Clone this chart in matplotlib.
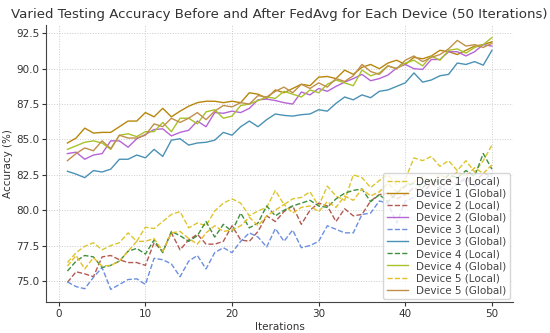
import numpy as np
import matplotlib
matplotlib.use("Agg")
import matplotlib.pyplot as plt

iterations = np.arange(1, 51)

d1_local = [76.3, 77.0, 77.45, 77.7, 77.2, 77.5, 77.7, 78.4, 77.8, 78.8,
            78.7, 79.2, 79.7, 79.9, 78.75, 79.1, 78.9, 79.95, 80.5, 80.8,
            80.5, 79.6, 79.95, 80.2, 81.4, 80.4, 80.8, 80.9, 81.3, 80.3,
            81.7, 81.0, 80.7, 82.5, 82.3, 81.6, 82.1, 82.5, 81.8, 82.2,
            83.7, 83.5, 83.8, 83.1, 83.5, 82.8, 83.5, 82.7, 83.5, 84.6]
d1_global = [84.75, 85.1, 85.8, 85.45, 85.5, 85.5, 85.9, 86.3, 86.3, 86.9,
             86.6, 87.2, 86.6, 87.0, 87.35, 87.6, 87.7, 87.7, 87.6, 87.7,
             87.6, 88.3, 88.2, 87.9, 88.5, 88.3, 88.6, 88.9, 88.8, 89.4,
             89.45, 89.3, 89.9, 89.6, 90.1, 90.3, 90.0, 90.4, 90.6, 90.3,
             90.8, 90.7, 90.9, 91.3, 91.2, 91.0, 91.3, 91.6, 91.7, 91.9]
d2_local = [74.9, 75.65, 75.5, 75.3, 76.7, 76.8, 76.5, 76.3, 76.3, 76.1,
            77.7, 77.1, 78.4, 77.2, 77.9, 78.3, 77.6, 77.6, 77.8, 78.9,
            77.9, 77.8, 78.5, 79.6, 79.2, 79.9, 80.3, 79.0, 80.0, 80.5,
            80.3, 79.2, 80.1, 79.6, 79.7, 80.65, 81.1, 81.2, 80.8, 81.1,
            81.6, 81.2, 81.9, 81.5, 82.1, 81.8, 82.3, 82.0, 82.6, 82.4]
d2_global = [84.0, 84.1, 83.6, 83.9, 84.0, 84.9, 84.9, 84.45, 85.05, 85.35,
             85.7, 85.75, 85.25, 85.5, 85.65, 86.3, 85.9, 86.9, 86.85, 87.0,
             86.9, 87.2, 87.8, 87.85, 87.75, 87.6, 87.5, 88.35, 88.15, 88.6,
             88.4, 88.75, 89.05, 89.3, 89.6, 89.15, 89.3, 89.55, 90.05, 90.3,
             90.0, 89.95, 90.65, 90.65, 91.2, 91.2, 90.9, 91.2, 91.7, 91.6]
d3_local = [74.93, 74.6, 74.45, 75.25, 75.95, 74.4, 74.75, 75.1, 75.15, 74.75,
            76.6, 76.5, 76.2, 75.3, 76.4, 76.8, 75.85, 77.0, 77.35, 77.0,
            77.8, 78.4, 78.1, 77.4, 78.7, 77.8, 78.6, 77.35, 77.5, 77.8,
            78.9, 78.65, 78.4, 78.4, 79.7, 79.8, 80.65, 80.5, 79.1, 80.65,
            80.9, 81.4, 81.0, 81.7, 81.3, 81.9, 82.2, 81.7, 82.1, 82.6]
d3_global = [82.75, 82.55, 82.3, 82.8, 82.7, 82.9, 83.6, 83.6, 83.9, 83.7,
             84.3, 83.8, 84.95, 85.05, 84.6, 84.75, 84.8, 84.95, 85.5, 85.3,
             85.9, 86.3, 85.9, 86.4, 86.8, 86.7, 86.65, 86.75, 86.8, 87.1,
             87.0, 87.55, 88.0, 87.8, 88.15, 87.95, 88.4, 88.5, 88.75, 89.0,
             89.7, 89.05, 89.2, 89.5, 89.6, 90.4, 90.3, 90.5, 90.25, 91.3]
d4_local = [75.7, 76.4, 76.8, 76.7, 75.95, 76.1, 76.4, 77.1, 77.3, 76.9,
            77.9, 77.0, 78.5, 78.2, 77.8, 78.2, 79.2, 78.1, 79.0, 78.5,
            79.8, 78.75, 79.1, 80.3, 79.6, 80.0, 80.3, 80.5, 80.7, 80.3,
            80.2, 80.8, 81.2, 81.4, 81.5, 80.6, 81.1, 80.6, 81.2, 81.7,
            81.9, 81.6, 82.2, 81.9, 82.5, 82.3, 82.8, 82.4, 84.0, 82.9]
d4_global = [84.3, 84.55, 84.8, 84.9, 84.75, 84.3, 85.3, 85.4, 85.2, 85.55,
             85.55, 86.2, 85.55, 86.5, 86.5, 86.1, 86.95, 87.1, 86.5, 86.65,
             87.4, 87.5, 87.75, 88.0, 87.9, 88.4, 88.2, 88.0, 88.5, 88.3,
             88.9, 89.2, 89.0, 88.8, 89.9, 89.5, 89.7, 90.2, 90.0, 90.4,
             90.6, 90.2, 90.9, 90.6, 91.3, 91.4, 91.1, 91.5, 91.7, 92.2]
d5_local = [76.05, 76.8, 75.85, 76.65, 76.05, 76.1, 76.4, 77.1, 77.8, 77.8,
            78.0, 77.1, 78.4, 78.5, 78.0, 77.6, 78.4, 78.9, 78.5, 78.6,
            78.9, 79.5, 78.9, 79.6, 80.0, 80.4, 79.8, 80.2, 80.3, 79.9,
            80.6, 80.2, 81.0, 80.7, 81.5, 81.0, 81.3, 81.9, 81.3, 81.8,
            82.0, 82.4, 81.9, 82.5, 82.2, 82.7, 82.4, 83.0, 82.6, 83.2]
d5_global = [83.5, 84.0, 84.4, 84.2, 84.9, 84.35, 85.3, 85.1, 85.1, 85.3,
             86.1, 85.9, 86.5, 86.2, 86.5, 86.9, 86.4, 87.0, 87.4, 87.3,
             87.6, 87.5, 88.1, 88.0, 88.4, 88.7, 88.3, 88.9, 88.6, 89.0,
             88.7, 89.3, 89.1, 89.5, 90.3, 89.8, 89.6, 90.2, 90.0, 90.6,
             90.9, 90.5, 90.8, 91.0, 91.4, 92.0, 91.6, 91.7, 91.5, 91.8]

local_acc = [d1_local, d2_local, d3_local, d4_local, d5_local]
global_acc = [d1_global, d2_global, d3_global, d4_global, d5_global]
local_colors = ['#dcc62e', '#b35a52', '#6b8fe0', '#3f8f3f', '#e3bf2a']
global_colors = ['#b8860b', '#b565d6', '#4a92b5', '#a8c22a', '#c0904a']

fig = plt.figure(figsize=(5.5, 3.33), dpi=100)
ax = fig.add_axes([0.084, 0.093, 0.849, 0.832])

for k in range(5):
    ax.plot(iterations, local_acc[k], linestyle='--', color=local_colors[k],
            linewidth=1.0, label=f'Device {k+1} (Local)')
    ax.plot(iterations, global_acc[k], linestyle='-', color=global_colors[k],
            linewidth=1.0, label=f'Device {k+1} (Global)')

ax.set_title('Varied Testing Accuracy Before and After FedAvg for Each Device (50 Iterations)',
             fontsize=9.6, color='#333333', pad=5)
ax.set_xlabel('Iterations', fontsize=7.5, color='#333333', labelpad=2)
ax.set_ylabel('Accuracy (%)', fontsize=7.5, color='#333333', labelpad=2)
ax.tick_params(labelsize=7.5, length=3, pad=2, colors='#333333')
ax.grid(True, linestyle=':', color='#cccccc', linewidth=0.7)
ax.spines['top'].set_visible(False)
ax.spines['right'].set_visible(False)
for s in ['left', 'bottom']:
    ax.spines[s].set_color('#444444')

leg = ax.legend(loc='lower right', fontsize=7.5, framealpha=0.8,
                handlelength=2.0, labelspacing=0.2, borderpad=0.35,
                borderaxespad=0.3)
for t in leg.get_texts():
    t.set_color('#444444')

fig.savefig('out.png', dpi=100)
